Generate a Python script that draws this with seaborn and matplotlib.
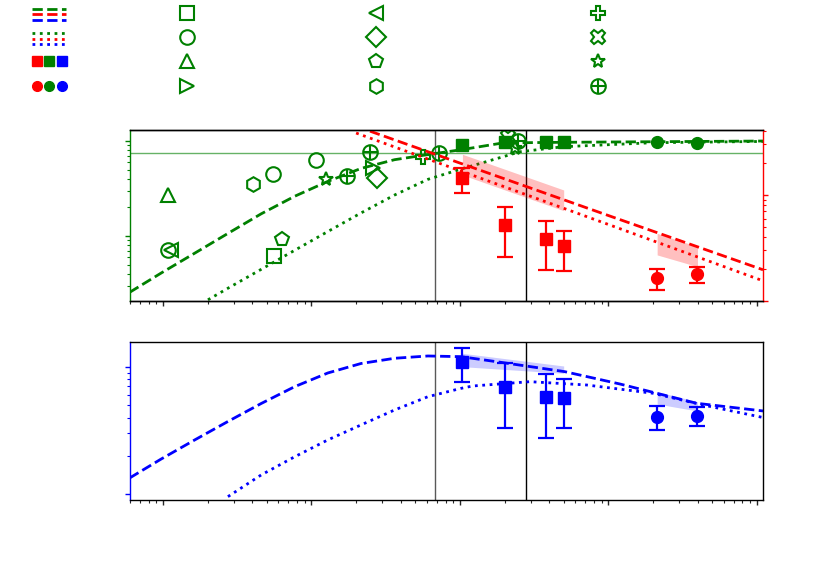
import numpy as np
import seaborn as sns
import matplotlib
matplotlib.use("Agg")
import matplotlib.pyplot as plt
from matplotlib.lines import Line2D
from matplotlib.legend_handler import HandlerBase, HandlerTuple
from matplotlib.ticker import NullFormatter

# ---- data ----
x_lim = (0.6, 11000)
v_lines = [68, 278]
h_green = 0.75

# model curves, top panel (left axis, green)
g_dash_x = [0.597, 0.974, 1.635, 2.74, 4.59, 7.71, 12.9, 21.6, 36.3, 60.9, 102, 195, 471, 2000, 11000]
g_dash_y = [0.02555, 0.0408, 0.0659, 0.1065, 0.1713, 0.262, 0.376, 0.515, 0.636, 0.72, 0.81, 0.955, 0.969, 0.983, 1.0]
g_dot_x = [2.01, 2.74, 4.59, 7.71, 12.9, 21.6, 36.3, 60.9, 102, 254, 497, 2000, 11000]
g_dot_y = [0.0213, 0.0282, 0.0446, 0.0707, 0.1115, 0.175, 0.27, 0.395, 0.507, 0.771, 0.871, 0.96, 0.99]

# model curves, top panel (right axis, red)
r_dash_x = [20, 100, 1000, 11000]
r_dash_y = [4.45, 2.0, 0.64, 0.197]
r_dot_x = [20, 100, 1000, 11000]
r_dot_y = [3.84, 1.695, 0.527, 0.155]

# model curves, bottom panel (blue)
b_dash_x = [0.597, 0.974, 1.635, 2.74, 4.59, 7.71, 12.9, 21.6, 36.3, 60.9, 102, 196, 509, 1195, 3925, 11000]
b_dash_y = [0.1344, 0.1893, 0.2667, 0.3723, 0.5149, 0.6973, 0.8928, 1.0594, 1.1637, 1.2129, 1.1976, 1.075, 0.914, 0.732, 0.517, 0.45]
b_dot_x = [2.74, 4.59, 7.71, 12.9, 21.6, 36.3, 60.9, 102, 122, 296, 713, 2000, 4350, 11000]
b_dot_y = [0.096, 0.142, 0.197, 0.267, 0.35, 0.458, 0.582, 0.677, 0.706, 0.763, 0.719, 0.619, 0.501, 0.40]

# shaded bands
band1_x = [104, 500]
band2_x = [2130, 3980]
r_band1_lo, r_band1_hi = [1.545, 0.711], [2.42, 1.115]
r_band2_lo, r_band2_hi = [0.272, 0.211], [0.435, 0.326]
b_band1_lo, b_band1_hi = [1.0, 0.888], [1.273, 1.013]
b_band2_lo, b_band2_hi = [0.51, 0.45], [0.637, 0.532]

# measured points
sq_x = [104, 200, 380, 500]
ci_x = [2130, 3980]
g_sq_y = [0.91, 0.98, 0.98, 0.98]
g_ci_y = [0.98, 0.96]
r_sq_y = [1.44, 0.52, 0.385, 0.33]
r_sq_lo = [1.05, 0.262, 0.196, 0.193]
r_sq_hi = [1.79, 0.776, 0.572, 0.46]
r_ci_y = [0.164, 0.18]
r_ci_lo = [0.127, 0.149]
r_ci_hi = [0.2, 0.211]
b_sq_y = [1.08, 0.69, 0.58, 0.565]
b_sq_lo = [0.763, 0.333, 0.278, 0.333]
b_sq_hi = [1.39, 1.06, 0.877, 0.80]
b_ci_y = [0.406, 0.414]
b_ci_lo = [0.32, 0.343]
b_ci_hi = [0.495, 0.48]

# open green symbols: marker -> (x list, y list)
open_pts = {
    "s": ([5.59], [0.062]),
    "o": ([1.09, 5.48, 10.8], [0.071, 0.45, 0.63]),
    "^": ([1.09], [0.27]),
    ">": ([26.1], [0.516]),
    "<": ([1.13], [0.071]),
    "D": ([27.5], [0.405]),
    "p": ([6.36], [0.092]),
    "h": ([4.02], [0.35]),
    "P": ([56.6], [0.68]),
    "X": ([211], [1.11]),
    "*": ([12.5, 234], [0.395, 0.84]),
    "oplus": ([17.4, 25, 72.6, 245], [0.43, 0.77, 0.74, 1.0]),
}

sns.set_style("ticks")
plt.rcParams["font.family"] = ["DejaVu Sans"]

fig = plt.figure(figsize=(8.3, 5.83), dpi=100)
ax1 = fig.add_axes([0.1566, 0.4837, 0.7627, 0.2933])
ax1.set_xscale("log")
ax1.set_yscale("log")
ax1r = ax1.twinx()
ax1r.set_yscale("log")
ax2 = fig.add_axes([0.1566, 0.1424, 0.7627, 0.271])
ax2.set_xscale("log")
ax2.set_yscale("log")

MS_OPEN = 10.5
LW = 2


def curve(ax, xs, ys, color, ls):
    sns.lineplot(x=xs, y=ys, ax=ax, color=color, linestyle=ls, lw=LW,
                 sort=False, estimator=None, legend=False, zorder=2)


def points(ax, xs, ys, lo, hi, color, marker):
    ys = np.array(ys)
    err = [ys - np.array(lo), np.array(hi) - ys]
    ax.errorbar(xs, ys, yerr=err, fmt=marker, color=color, ms=8.5, elinewidth=1.6,
                capsize=6, capthick=1.6, zorder=4)


# --- top panel, left axis (green) ---
for v, c in zip(v_lines, ["0.35", "k"]):
    ax1.axvline(v, color=c, lw=1, zorder=1)
ax1.axhline(h_green, color="green", lw=1, alpha=0.6, zorder=1)
curve(ax1, g_dash_x, g_dash_y, "green", "--")
curve(ax1, g_dot_x, g_dot_y, "green", ":")
ax1.plot(sq_x, g_sq_y, "s", color="green", ms=8.5, ls="none", zorder=4)
ax1.plot(ci_x, g_ci_y, "o", color="green", ms=8.5, ls="none", zorder=4)
for m, (xs, ys) in open_pts.items():
    if m == "oplus":
        ax1.plot(xs, ys, "o", mfc="none", mec="green", mew=1.5, ms=MS_OPEN, ls="none", zorder=5)
        ax1.plot(xs, ys, "+", mec="green", mew=1.5, ms=MS_OPEN, ls="none", zorder=5)
    else:
        ax1.plot(xs, ys, m, mfc="none", mec="green", mew=1.5, ms=MS_OPEN, ls="none", zorder=5)

# --- top panel, right axis (red) ---
ax1r.fill_between(band1_x, r_band1_lo, r_band1_hi, color="red", alpha=0.25, lw=0)
ax1r.fill_between(band2_x, r_band2_lo, r_band2_hi, color="red", alpha=0.25, lw=0)
curve(ax1r, r_dash_x, r_dash_y, "red", "--")
curve(ax1r, r_dot_x, r_dot_y, "red", ":")
points(ax1r, sq_x, r_sq_y, r_sq_lo, r_sq_hi, "red", "s")
points(ax1r, ci_x, r_ci_y, r_ci_lo, r_ci_hi, "red", "o")

# --- bottom panel (blue) ---
for v, c in zip(v_lines, ["0.35", "k"]):
    ax2.axvline(v, color=c, lw=1, zorder=1)
ax2.fill_between(band1_x, b_band1_lo, b_band1_hi, color="blue", alpha=0.2, lw=0)
ax2.fill_between(band2_x, b_band2_lo, b_band2_hi, color="blue", alpha=0.2, lw=0)
curve(ax2, b_dash_x, b_dash_y, "blue", "--")
curve(ax2, b_dot_x, b_dot_y, "blue", ":")
points(ax2, sq_x, b_sq_y, b_sq_lo, b_sq_hi, "blue", "s")
points(ax2, ci_x, b_ci_y, b_ci_lo, b_ci_hi, "blue", "o")

# --- axes cosmetics ---
ax1.set_xlim(*x_lim)
ax2.set_xlim(*x_lim)
ax1.set_ylim(0.0207, 1.306)
ax1r.set_ylim(0.1, 4.1)
ax2.set_ylim(0.0904, 1.561)

for ax in (ax1, ax1r, ax2):
    for a in (ax.xaxis, ax.yaxis):
        a.set_major_formatter(NullFormatter())
        a.set_minor_formatter(NullFormatter())
    ax.tick_params(which="major", length=3.5, width=1, direction="out")
    ax.tick_params(which="minor", length=2, width=0.8, direction="out")
    for s in ax.spines.values():
        s.set_linewidth(1.0)
        s.set_color("k")
    ax.set_xlabel("")
    ax.set_ylabel("")

ax1.spines["left"].set_color("green")
ax1.tick_params(axis="y", which="both", colors="green")
ax1r.spines["left"].set_visible(False)
ax1r.spines["right"].set_color("red")
ax1r.tick_params(axis="y", which="both", colors="red")
ax1.spines["right"].set_visible(False)
ax2.spines["left"].set_color("blue")
ax2.tick_params(axis="y", which="both", colors="blue")


# --- legend ---
class StackedLines(HandlerBase):
    def create_artists(self, legend, orig_handle, xdescent, ydescent,
                       width, height, fontsize, trans):
        out = []
        for i, h in enumerate(orig_handle):
            yy = height / 2 - ydescent + (1 - i) * 3.8 - 1.2
            ln = Line2D([-xdescent, width - xdescent], [yy, yy], color=h.get_color(),
                        ls=h.get_linestyle(), lw=h.get_linewidth())
            ln.set_transform(trans)
            out.append(ln)
        return out


cols = ["green", "red", "blue"]
dash_h = tuple(Line2D([], [], color=c, ls="--", lw=2) for c in cols)
dot_h = tuple(Line2D([], [], color=c, ls=":", lw=2) for c in cols)
sqr_h = tuple(Line2D([], [], color=c, marker="s", ls="none", ms=7.3) for c in ["red", "green", "blue"])
cir_h = tuple(Line2D([], [], color=c, marker="o", ls="none", ms=7.0) for c in ["red", "green", "blue"])


def open_h(m):
    return Line2D([], [], marker=m, mfc="none", mec="green", mew=1.5, ms=MS_OPEN, ls="none")


oplus_h = (open_h("o"), open_h("+"))

columns = [
    ([dash_h, dot_h, sqr_h, cir_h], 31.7),
    ([open_h("s"), open_h("o"), open_h("^"), open_h(">")], 169.5),
    ([open_h("<"), open_h("D"), open_h("p"), open_h("h")], 359),
    ([open_h("P"), open_h("X"), open_h("*"), oplus_h], 581),
]
hmap = {
    dash_h: StackedLines(),
    dot_h: StackedLines(),
    sqr_h: HandlerTuple(ndivide=None, pad=0.2),
    cir_h: HandlerTuple(ndivide=None, pad=0.2),
    oplus_h: HandlerTuple(ndivide=1),
}
for handles, xpx in columns:
    fig.legend(handles, [""] * 4, loc="upper left",
               bbox_to_anchor=(xpx / 830, 1 - 6.5 / 583), frameon=False,
               borderaxespad=0, borderpad=0, handlelength=2.5, handletextpad=0,
               labelspacing=0.75, handler_map=hmap)

fig.savefig("out.png", dpi=100)
